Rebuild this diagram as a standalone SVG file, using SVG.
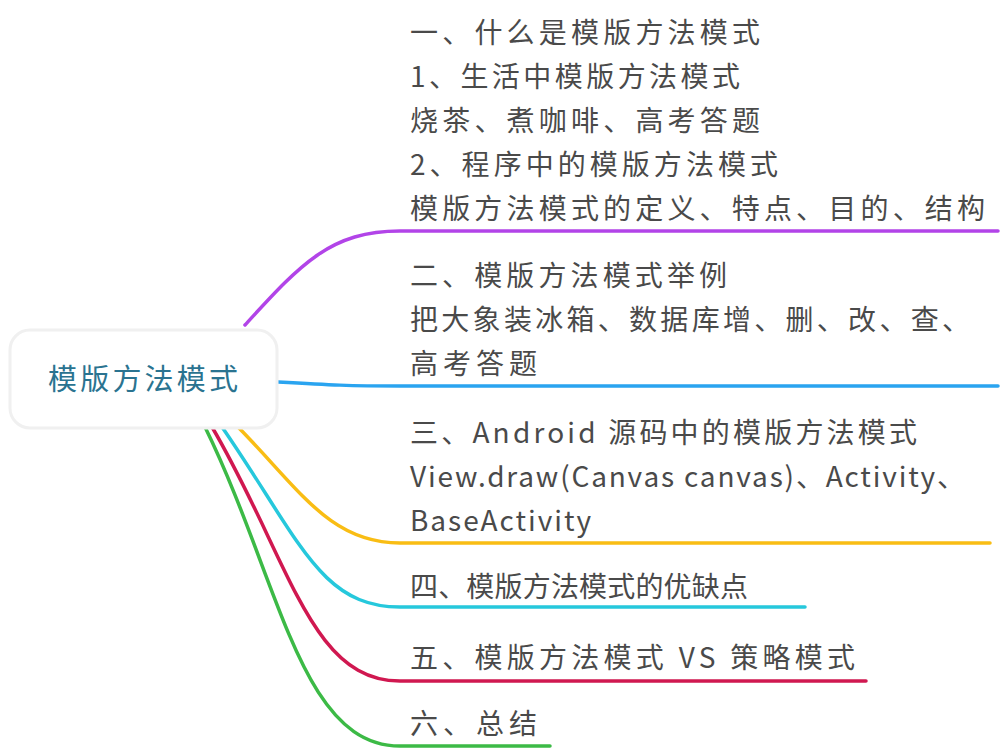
<svg xmlns="http://www.w3.org/2000/svg" width="1006" height="756" viewBox="0 0 1006 756">
<style>
.t{font-family:"Noto Sans CJK SC","Noto Sans",sans-serif;font-size:28px;fill:#4a4a4a}
.c{fill:none;stroke-width:3.5;stroke-linecap:round}
</style>
<rect width="1006" height="756" fill="#fff"/>
<g id="connectors">
<path class="c" stroke="#b244e8" d="M245,325 C300,265 330,231 400,231 L998,231"/>
<path class="c" stroke="#2aa4f0" d="M278,382 C330,385 350,386 400,386 L998,386"/>
<path class="c" stroke="#f9bd14" d="M238,427 C300,490 330,543 400,543 L990,543"/>
<path class="c" stroke="#26c8dc" d="M222,427 C300,540 320,607 400,607 L805,607"/>
<path class="c" stroke="#d01850" d="M212,427 C290,560 310,681 400,681 L866,681"/>
<path class="c" stroke="#3cba46" d="M205,427 C280,580 300,746 400,746 L550,746"/>
</g>
<g id="root">
<rect x="10" y="330" width="267" height="98" rx="20" fill="#fff" stroke="#f0f0f0" stroke-width="3"/>
<text x="48" y="390" textLength="190" lengthAdjust="spacing" style="font-family:'Noto Sans CJK SC',sans-serif;font-size:29px;fill:#2a7390">模版方法模式</text>
</g>
<g id="n1">
<text class="t" x="410" y="43" textLength="350" lengthAdjust="spacing">一、什么是模版方法模式</text>
<text class="t" x="410" y="87" textLength="330" lengthAdjust="spacing">1、生活中模版方法模式</text>
<text class="t" x="410" y="131" textLength="350" lengthAdjust="spacing">烧茶、煮咖啡、高考答题</text>
<text class="t" x="410" y="175" textLength="368" lengthAdjust="spacing">2、程序中的模版方法模式</text>
<text class="t" x="410" y="219" textLength="575" lengthAdjust="spacing">模版方法模式的定义、特点、目的、结构</text>
</g>
<g id="n2">
<text class="t" x="410" y="286" textLength="317" lengthAdjust="spacing">二、模版方法模式举例</text>
<text class="t" x="410" y="330" textLength="560" lengthAdjust="spacing">把大象装冰箱、数据库增、删、改、查、</text>
<text class="t" x="410" y="374" textLength="127" lengthAdjust="spacing">高考答题</text>
</g>
<g id="n3">
<text class="t" x="410" y="443" textLength="507" lengthAdjust="spacing">三、Android 源码中的模版方法模式</text>
<text class="t" x="410" y="487" textLength="555" lengthAdjust="spacing">View.draw(Canvas canvas)、Activity、</text>
<text class="t" x="410" y="531" textLength="181" lengthAdjust="spacing">BaseActivity</text>
</g>
<g id="n4"><text class="t" x="410" y="597" textLength="338" lengthAdjust="spacing">四、模版方法模式的优缺点</text></g>
<g id="n5"><text class="t" x="410" y="668" textLength="445" lengthAdjust="spacing">五、模版方法模式 VS 策略模式</text></g>
<g id="n6"><text class="t" x="410" y="734" textLength="127" lengthAdjust="spacing">六、总结</text></g>
</svg>
